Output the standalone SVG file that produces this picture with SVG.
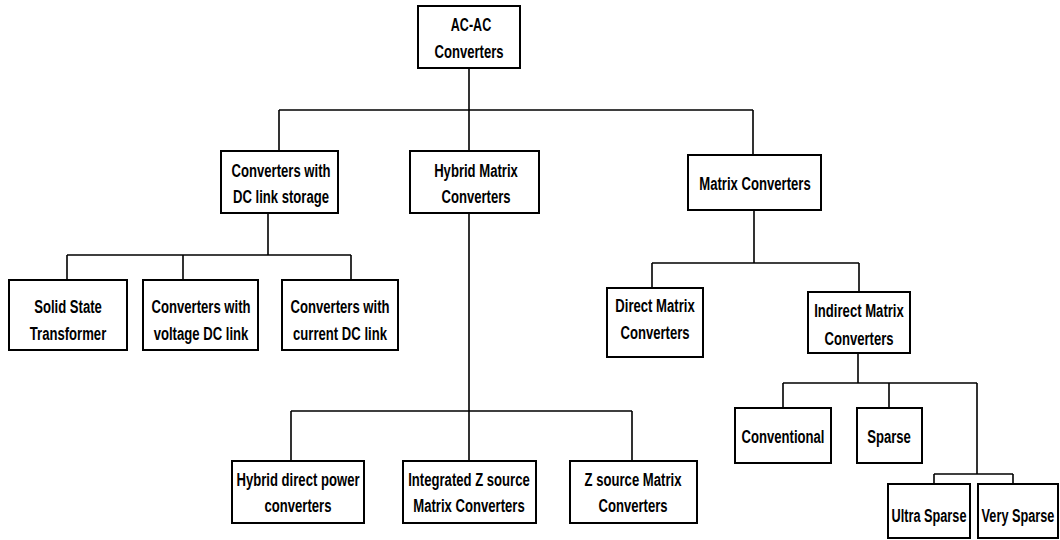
<svg xmlns="http://www.w3.org/2000/svg" width="1060" height="540" viewBox="0 0 1060 540">
<style>
.box{fill:#fff;stroke:#000;stroke-width:2}
.ln{fill:none;stroke:#000;stroke-width:1.6}
text{font-family:"Liberation Sans",Arial,sans-serif;font-weight:bold;font-size:19px;fill:#000;text-anchor:middle}
</style>
<rect width="1060" height="540" fill="#fff"/>
<g id="connectors">
<path class="ln" d="M469 68V110M279 110H753M279 110V151M469 110V151M753 110V155"/>
<path class="ln" d="M268 213V255M67 255H351M67 255V280M183 255V280M351 255V280"/>
<path class="ln" d="M469 213V461M291 411H632M291 411V461M632 411V461"/>
<path class="ln" d="M754 210V263M652 263H859M652 263V288M859 263V292"/>
<path class="ln" d="M858 353V383M783 383H977M783 383V408M889 383V408M977 383V474M934 474H1013M934 474V484M1013 474V484"/>
</g>
<g id="root"><rect class="box" x="418" y="6" width="102" height="62"/><text transform="translate(471 31) scale(0.66 1)">AC-AC</text><text transform="translate(469 58) scale(0.69 1)">Converters</text></g>
<g id="dclink"><rect class="box" x="221" y="151" width="117" height="62"/><text transform="translate(281 177) scale(0.69 1)">Converters with</text><text transform="translate(281 203) scale(0.69 1)">DC link storage</text></g>
<g id="hybrid"><rect class="box" x="410" y="151" width="129" height="62"/><text transform="translate(476 177) scale(0.69 1)">Hybrid Matrix</text><text transform="translate(476 203) scale(0.69 1)">Converters</text></g>
<g id="matrix"><rect class="box" x="688" y="155" width="133" height="55"/><text transform="translate(755 190) scale(0.69 1)">Matrix Converters</text></g>
<g id="sst"><rect class="box" x="9" y="280" width="118" height="70"/><text transform="translate(68 313) scale(0.69 1)">Solid State</text><text transform="translate(68 340) scale(0.69 1)">Transformer</text></g>
<g id="vdc"><rect class="box" x="143" y="280" width="115" height="70"/><text transform="translate(201 313) scale(0.69 1)">Converters with</text><text transform="translate(201 340) scale(0.69 1)">voltage DC link</text></g>
<g id="cdc"><rect class="box" x="282" y="280" width="116" height="70"/><text transform="translate(340 313) scale(0.69 1)">Converters with</text><text transform="translate(340 340) scale(0.69 1)">current DC link</text></g>
<g id="direct"><rect class="box" x="607" y="288" width="96" height="69"/><text transform="translate(655 312) scale(0.69 1)">Direct Matrix</text><text transform="translate(655 339) scale(0.69 1)">Converters</text></g>
<g id="indirect"><rect class="box" x="808" y="292" width="102" height="61"/><text transform="translate(859 317) scale(0.69 1)">Indirect Matrix</text><text transform="translate(859 345) scale(0.69 1)">Converters</text></g>
<g id="conventional"><rect class="box" x="735" y="408" width="96" height="55"/><text transform="translate(783 443) scale(0.69 1)">Conventional</text></g>
<g id="sparse"><rect class="box" x="857" y="408" width="65" height="55"/><text transform="translate(889 443) scale(0.69 1)">Sparse</text></g>
<g id="ultra"><rect class="box" x="888" y="484" width="82" height="54"/><text transform="translate(929 522) scale(0.67 1)">Ultra Sparse</text></g>
<g id="very"><rect class="box" x="978" y="484" width="80" height="54"/><text transform="translate(1018 522) scale(0.67 1)">Very Sparse</text></g>
<g id="hdpc"><rect class="box" x="232" y="461" width="132" height="62"/><text transform="translate(298 486) scale(0.69 1)">Hybrid direct power</text><text transform="translate(298 512) scale(0.69 1)">converters</text></g>
<g id="izsmc"><rect class="box" x="403" y="461" width="133" height="62"/><text transform="translate(469 486) scale(0.69 1)">Integrated Z source</text><text transform="translate(469 512) scale(0.69 1)">Matrix Converters</text></g>
<g id="zsmc"><rect class="box" x="570" y="461" width="127" height="62"/><text transform="translate(633 486) scale(0.69 1)">Z source Matrix</text><text transform="translate(633 512) scale(0.69 1)">Converters</text></g>
</svg>
